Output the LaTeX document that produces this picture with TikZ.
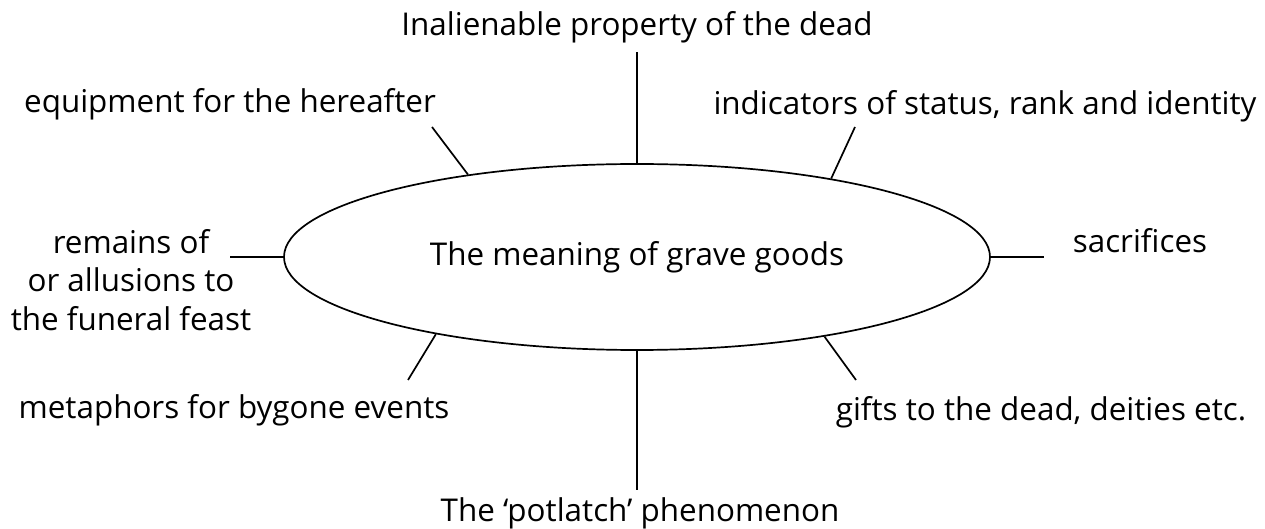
\documentclass[tikz,border=0pt]{standalone}
\usepackage{fontspec}
\setmainfont{Open Sans}
\usetikzlibrary{shapes.geometric}

\tikzset{
  meaning/.style={draw, ellipse, minimum width=353pt, minimum height=93pt, inner sep=0pt},
  aspect/.style={inner sep=0pt, font=\fontsize{15.7}{19.5}\selectfont}
}

\begin{document}
\begin{tikzpicture}[x=0.5pt, y=-0.5pt, line width=0.85pt, every node/.style={font=\fontsize{15.7}{19.5}\selectfont}]
          \useasboundingbox (0,0) rectangle (1265,529);
          \node (core) [meaning] at (637,257) {The meaning of grave goods};
          \node (dead) [aspect, anchor=base] at (637,36) {Inalienable property of the dead};
          \node (potlatch) [aspect, anchor=base] at (640,522) {The `potlatch' phenomenon};
          \node (sacr) [aspect, anchor=base west] at (1072,253) {sacrifices};
          \node (feast) [aspect, align=center, anchor=base] at (131,331) {remains of\\or allusions to\\the funeral feast};
          \node (equip) [aspect, anchor=base] at (230,113) {equipment for the hereafter};
          \node (status) [aspect, anchor=base] at (985,115) {indicators of status, rank and identity};
          \node (bygone) [aspect, anchor=base] at (234,419) {metaphors for bygone events};
          \node (gifts) [aspect, anchor=base] at (1041,421) {gifts to the dead, deities etc.};
          \coordinate (equipend) at (432,127);
          \coordinate (statusend) at (855,127);
          \coordinate (bygoneend) at (408,380);
          \coordinate (giftsend) at (856,380);
          \draw (core.north) -- (637,52);
          \draw (core.south) -- (637,490);
          \draw (core.east) -- (1044,257);
          \draw (core.west) -- (230,257);
          \draw (core.154.5) -- (equipend);
          \draw (core.22) -- (statusend);
          \draw (core.201) -- (bygoneend);
          \draw (core.337) -- (giftsend);
        \end{tikzpicture}
\end{document}
